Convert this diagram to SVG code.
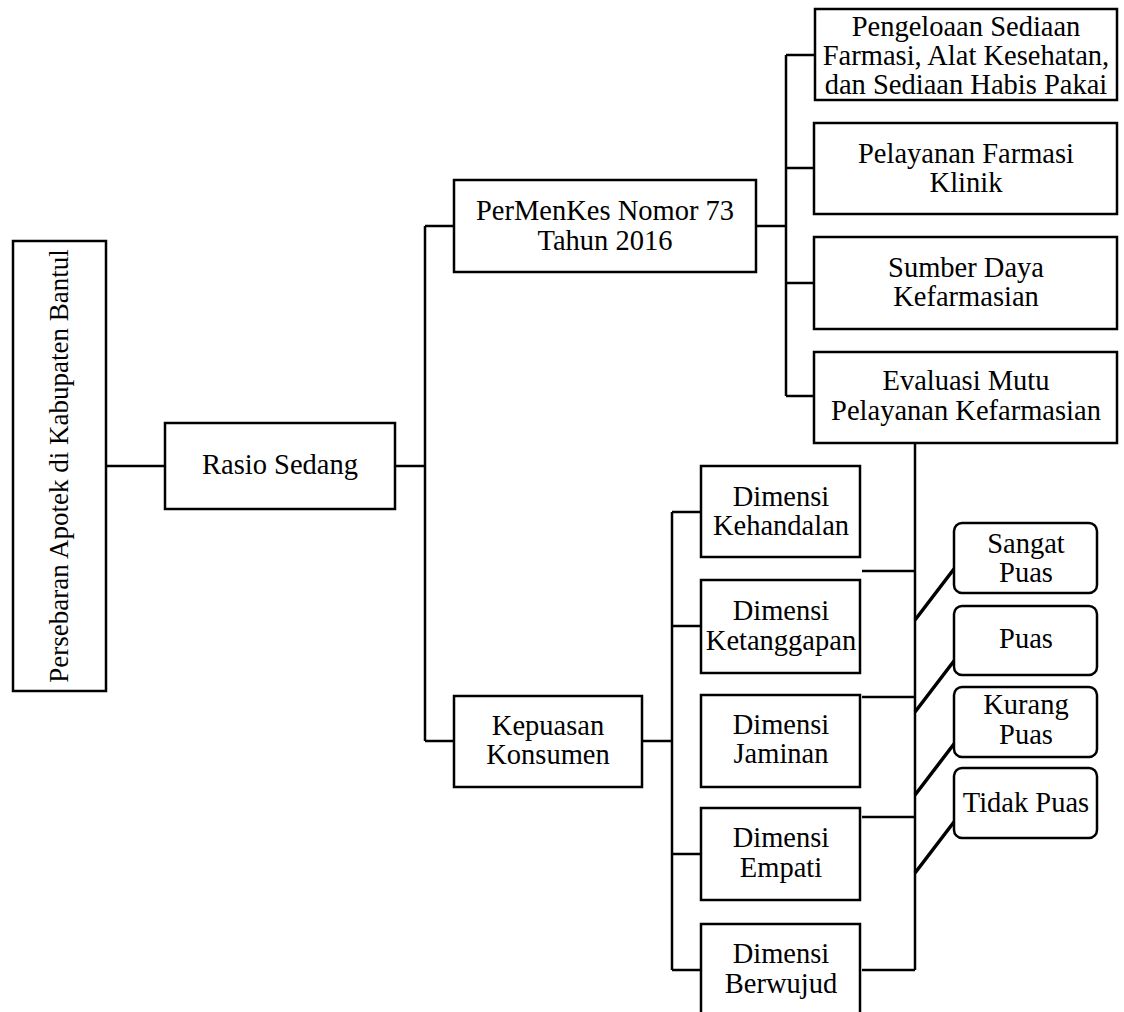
<svg xmlns="http://www.w3.org/2000/svg" width="1124" height="1012" viewBox="0 0 1124 1012">
<style>
.b{fill:#fff;stroke:#000;stroke-width:2.5}
.c{fill:none;stroke:#000;stroke-width:2.5}
.d{fill:none;stroke:#000;stroke-width:3.5}
text{font-family:"Liberation Serif","Times New Roman",serif;font-size:28.5px;fill:#000;text-anchor:middle}
text.v{font-size:27px}
</style>
<rect width="1124" height="1012" fill="#fff"/>
<g id="connectors">
<path class="c" d="M106 466H165"/>
<path class="c" d="M395 466H425M425 226V741M425 226H454M425 741H454"/>
<path class="c" d="M756 226H786M786 55V396M786 55H815M786 168H814M786 283H814M786 396H814"/>
<path class="c" d="M642 741H672M672 512V970M672 512H701M672 626H701M672 854H701M672 970H701"/>
<path class="c" d="M862 442H915V970M862 571H915M862 697H915M862 817H915M862 970H915"/>
<path class="d" d="M915 620L957 565M915 712L957 657M915 795L957 740M915 873L957 818"/>
</g>
<g id="n-persebaran"><rect class="b" x="13" y="241" width="93" height="450"/><text class="v" transform="translate(68,466) rotate(-90)">Persebaran Apotek di Kabupaten Bantul</text></g>
<g id="n-rasio"><rect class="b" x="165" y="423" width="230" height="86"/><text x="280" y="474">Rasio Sedang</text></g>
<g id="n-permenkes"><rect class="b" x="454" y="180" width="302" height="92"/><text x="605" y="220">PerMenKes Nomor 73</text><text x="605" y="250">Tahun 2016</text></g>
<g id="n-kepuasan"><rect class="b" x="454" y="696" width="188" height="91"/><text x="548" y="735">Kepuasan</text><text x="548" y="764">Konsumen</text></g>
<g id="n-pengeloaan"><rect class="b" x="815" y="9" width="302" height="91"/><text x="966" y="36">Pengeloaan Sediaan</text><text x="966" y="65">Farmasi, Alat Kesehatan,</text><text x="966" y="94">dan Sediaan Habis Pakai</text></g>
<g id="n-klinik"><rect class="b" x="814" y="123" width="303" height="91"/><text x="966" y="163">Pelayanan Farmasi</text><text x="966" y="192">Klinik</text></g>
<g id="n-sdm"><rect class="b" x="814" y="237" width="303" height="92"/><text x="966" y="277">Sumber Daya</text><text x="966" y="306">Kefarmasian</text></g>
<g id="n-evaluasi"><rect class="b" x="814" y="352" width="303" height="91"/><text x="966" y="390">Evaluasi Mutu</text><text x="966" y="420">Pelayanan Kefarmasian</text></g>
<g id="n-kehandalan"><rect class="b" x="701" y="466" width="159" height="91"/><text x="781" y="506">Dimensi</text><text x="781" y="535">Kehandalan</text></g>
<g id="n-ketanggapan"><rect class="b" x="701" y="580" width="159" height="93"/><text x="781" y="620">Dimensi</text><text x="781" y="650">Ketanggapan</text></g>
<g id="n-jaminan"><rect class="b" x="701" y="695" width="159" height="92"/><text x="781" y="734">Dimensi</text><text x="781" y="763">Jaminan</text></g>
<g id="n-empati"><rect class="b" x="701" y="808" width="159" height="92"/><text x="781" y="847">Dimensi</text><text x="781" y="877">Empati</text></g>
<g id="n-berwujud"><rect class="b" x="701" y="924" width="159" height="95"/><text x="781" y="963">Dimensi</text><text x="781" y="993">Berwujud</text></g>
<g id="n-sangat"><rect class="b" x="954" y="523" width="143" height="70" rx="8"/><text x="1026" y="553">Sangat</text><text x="1026" y="582">Puas</text></g>
<g id="n-puas"><rect class="b" x="954" y="606" width="143" height="69" rx="8"/><text x="1026" y="648">Puas</text></g>
<g id="n-kurang"><rect class="b" x="954" y="687" width="143" height="70" rx="8"/><text x="1026" y="714">Kurang</text><text x="1026" y="744">Puas</text></g>
<g id="n-tidak"><rect class="b" x="954" y="768" width="143" height="70" rx="8"/><text x="1026" y="812">Tidak Puas</text></g>
</svg>
